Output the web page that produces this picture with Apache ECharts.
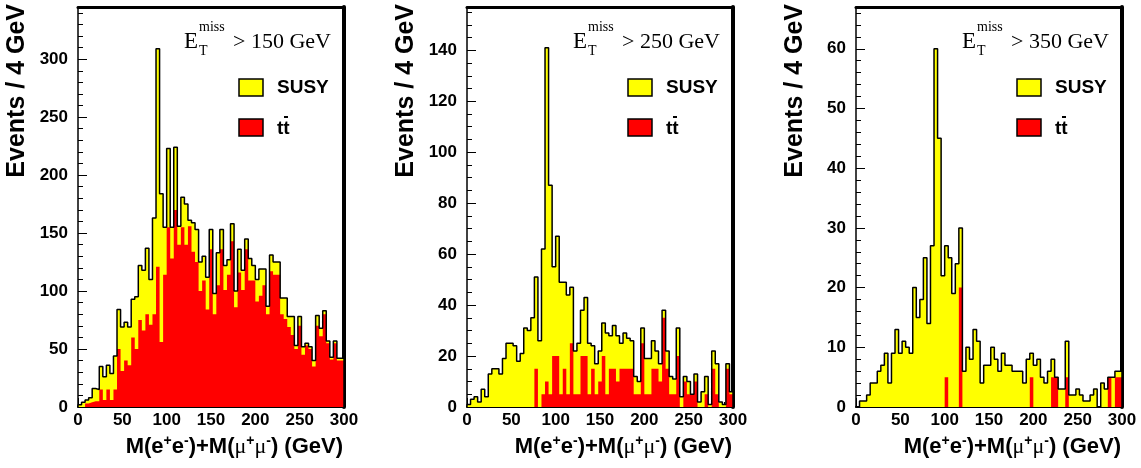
<!DOCTYPE html>
<html><head><meta charset="utf-8">
<script src="https://cdn.jsdelivr.net/npm/echarts@6/dist/echarts.min.js"></script>
<style>html,body{margin:0;padding:0;background:#fff}#c{width:1141px;height:468px}</style>
</head><body><div id="c"></div>
<script>
// ---- data: events per 4 GeV bin, bins 0-4, 4-8, ... 296-300 GeV ----
const BIN_WIDTH = 4;
const X_TICKS = [0, 50, 100, 150, 200, 250, 300];
const CUTS = ['> 150 GeV', '> 250 GeV', '> 350 GeV'];
const LEGEND = ['SUSY', 'tt'];

// total (SUSY + ttbar), drawn in yellow with black outline
const p1Total = [2,4,6,8,16,15,35,26,36,29,
  44,84,69,73,69,93,95,122,118,137,
  110,163,309,184,155,223,155,224,156,181,
  175,161,159,153,125,130,112,153,98,133,
  153,122,127,158,100,136,118,145,128,122,
  110,119,119,87,131,125,125,94,94,78,
  78,53,78,52,55,52,40,79,68,83,
  57,43,57,42,42];
const p1Tt = [0,0,3,4,5,5,15,6,15,6,
  15,50,31,40,36,60,50,75,66,80,
  71,80,121,56,114,155,128,170,140,155,
  140,156,134,125,100,109,84,136,80,105,
  136,101,114,143,86,116,101,136,109,109,
  91,96,105,80,117,114,114,80,76,69,
  62,50,70,45,53,50,35,70,61,80,
  55,41,55,40,40];

const p2Total = [1,3,4,2,7,4,13,15,15,13,
  19,25,25,24,18,21,31,30,35,51,
  26,62,141,87,55,67,49,49,44,47,
  22,25,38,43,25,24,17,22,33,29,
  28,32,28,25,29,27,26,12,10,31,
  19,19,26,22,17,38,22,12,11,31,
  4,12,10,5,13,2,6,12,1,22,
  17,2,1,17,6];
const p2Tt = [0,0,0,0,0,0,0,0,0,0,
  0,0,0,0,0,0,0,0,0,15,
  0,5,10,5,20,20,5,15,5,25,
  5,5,20,20,5,15,5,10,20,5,
  15,15,10,15,15,15,15,5,5,25,
  5,5,15,15,10,35,15,5,5,20,
  0,10,5,5,10,0,0,5,0,15,
  5,0,0,15,5];

const p3Total = [0,1,1,2,4,4,6,7,9,4,
  9,13,9,11,10,9,20,15,18,25,
  14,27,60,45,22,27,25,19,24,30,
  6,10,8,13,11,4,7,7,10,8,
  6,9,7,7,6,6,6,4,8,9,
  7,8,5,4,6,8,5,3,3,11,
  2,2,3,2,1,1,2,3,0,4,
  3,5,5,6,6];
const p3Tt = [0,0,0,0,0,0,0,0,0,0,
  0,0,0,0,0,0,0,0,0,0,
  0,0,0,0,0,5,0,0,0,20,
  0,0,0,0,0,0,0,0,0,0,
  0,0,0,0,0,0,0,0,0,5,
  0,0,0,0,0,5,5,0,0,5,
  0,0,0,0,0,0,0,0,0,0,
  0,5,0,5,5];

const Y_MAX = [345, 157, 67];
const Y_INTERVAL = [50, 20, 10];
const Y_MINOR = [5, 4, 5];

// ---- layout ----
const GRID_LEFT = [78, 467, 856];
const GRID_W = 266, GRID_TOP = 7, GRID_H = 400;
const SANS = '"Liberation Sans", Arial, Helvetica, sans-serif';
const SERIF = '"Liberation Serif", "Times New Roman", serif';

function stepData(vals) {
  const d = [[0, 0]];
  vals.forEach((v, i) => d.push([i * BIN_WIDTH, v]));
  const end = vals.length * BIN_WIDTH;
  d.push([end, vals[vals.length - 1]]);
  d.push([end, 0]);
  return d;
}

const totals = [p1Total, p2Total, p3Total];
const tts = [p1Tt, p2Tt, p3Tt];

const grid = [], xAxis = [], yAxis = [], series = [], graphic = [];
for (let i = 0; i < 3; i++) {
  grid.push({left: GRID_LEFT[i], top: GRID_TOP, width: GRID_W, height: GRID_H, show: false});
  const tickStyle = {color: '#000', width: 1};
  xAxis.push({
    gridIndex: i, type: 'value', min: 0, max: 300, interval: 50,
    axisLine: {onZero: false, lineStyle: {color: '#000', width: 2}},
    axisTick: {inside: true, length: 9, lineStyle: tickStyle},
    minorTick: {show: true, splitNumber: 5, length: 5, lineStyle: tickStyle},
    axisLabel: {color: '#000', fontWeight: 'bold', fontSize: 17, fontFamily: SANS, margin: 5,
      formatter: v => X_TICKS.includes(v) ? String(v) : ''},
    splitLine: {show: false}, minorSplitLine: {show: false}
  });
  xAxis.push({
    gridIndex: i, type: 'value', position: 'top', min: 0, max: 300,
    axisLine: {onZero: false, lineStyle: {color: '#000', width: 3}},
    axisTick: {show: false}, axisLabel: {show: false}, splitLine: {show: false}
  });
  yAxis.push({
    gridIndex: i, type: 'value', min: 0, max: Y_MAX[i], interval: Y_INTERVAL[i],
    axisLine: {show: true, onZero: false, lineStyle: {color: '#000', width: 1.5}},
    axisTick: {inside: true, length: 9, lineStyle: tickStyle},
    minorTick: {show: true, splitNumber: Y_MINOR[i], length: 5, lineStyle: tickStyle},
    axisLabel: {color: '#000', fontWeight: 'bold', fontSize: 17, fontFamily: SANS, margin: 10,
      showMaxLabel: false},
    splitLine: {show: false}
  });
  yAxis.push({
    gridIndex: i, type: 'value', position: 'right', min: 0, max: Y_MAX[i],
    axisLine: {show: true, onZero: false, lineStyle: {color: '#000', width: 4}},
    axisTick: {show: false}, axisLabel: {show: false}, splitLine: {show: false}
  });
  const common = {type: 'line', step: 'end', xAxisIndex: 2 * i, yAxisIndex: 2 * i,
    symbol: 'none', silent: true, animation: false};
  series.push(Object.assign({}, common, {
    name: 'SUSY', data: stepData(totals[i]), z: 2,
    lineStyle: {width: 0, opacity: 0}, areaStyle: {color: '#ffff00', opacity: 1}
  }));
  series.push(Object.assign({}, common, {
    name: 'tt', data: stepData(tts[i]), z: 3,
    lineStyle: {width: 0, opacity: 0}, areaStyle: {color: '#ff0000', opacity: 1}
  }));
  series.push(Object.assign({}, common, {
    name: 'outline', data: stepData(totals[i]), z: 4,
    lineStyle: {color: '#000', width: 1.5}
  }));

  const ox = GRID_LEFT[i];
  // E_T^miss annotation
  graphic.push({type: 'text', x: ox + 106, y: 42, z: 10,
    style: {text: 'E', font: '23px ' + SERIF, fill: '#000', align: 'left', verticalAlign: 'middle'}});
  graphic.push({type: 'text', x: ox + 121, y: 27, z: 10,
    style: {text: 'miss', font: '14px ' + SERIF, fill: '#000', align: 'left', verticalAlign: 'middle'}});
  graphic.push({type: 'text', x: ox + 121, y: 51, z: 10,
    style: {text: 'T', font: '14px ' + SERIF, fill: '#000', align: 'left', verticalAlign: 'middle'}});
  graphic.push({type: 'text', x: ox + 155, y: 42, z: 10,
    style: {text: CUTS[i], font: '22px ' + SERIF, fill: '#000', align: 'left', verticalAlign: 'middle'}});
  // legend
  graphic.push({type: 'rect', z: 10, shape: {x: ox + 161, y: 79, width: 24, height: 17},
    style: {fill: '#ffff00', stroke: '#000', lineWidth: 1.5}});
  graphic.push({type: 'text', x: ox + 199, y: 88, z: 10,
    style: {text: LEGEND[0], font: 'bold 19px ' + SANS, fill: '#000', align: 'left', verticalAlign: 'middle'}});
  graphic.push({type: 'rect', z: 10, shape: {x: ox + 161, y: 119, width: 24, height: 17},
    style: {fill: '#ff0000', stroke: '#000', lineWidth: 1.5}});
  graphic.push({type: 'text', x: ox + 199, y: 129, z: 10,
    style: {text: LEGEND[1], font: 'bold 19px ' + SANS, fill: '#000', align: 'left', verticalAlign: 'middle'}});
  graphic.push({type: 'line', z: 10, shape: {x1: ox + 206, y1: 117, x2: ox + 210, y2: 117},
    style: {stroke: '#000', lineWidth: 2}});
  // y title
  graphic.push({type: 'text', x: ox - 61, y: 4, rotation: Math.PI / 2, z: 10,
    style: {text: 'Events / 4 GeV', font: 'bold 25px ' + SANS, fill: '#000', align: 'right', verticalAlign: 'middle'}});
  // x title
  graphic.push({type: 'text', x: ox + 265, y: 447, z: 10,
    style: {
      text: '{b|M(e}{s|+}{b|e}{s|-}{b|)+M(}{m|\u03bc}{s|+}{m|\u03bc}{s|-}{b|) (GeV)}',
      align: 'right', verticalAlign: 'middle', fill: '#000',
      rich: {
        b: {fontSize: 22, fontWeight: 'bold', fontFamily: SANS, lineHeight: 26, fill: '#000'},
        s: {fontSize: 14, fontWeight: 'bold', fontFamily: SANS, lineHeight: 12, verticalAlign: 'top', fill: '#000'},
        m: {fontSize: 22, fontFamily: SERIF, lineHeight: 26, fill: '#000'}
      }
    }});
}

const chart = echarts.init(document.getElementById('c'), null, {renderer: 'canvas'});
chart.setOption({animation: false, backgroundColor: '#fff', grid, xAxis, yAxis, series, graphic});
</script>
</body></html>
